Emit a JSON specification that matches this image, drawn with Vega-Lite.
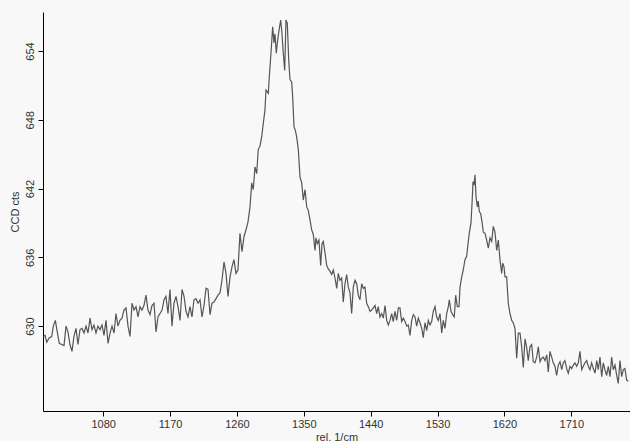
{
  "$schema": "https://vega.github.io/schema/vega-lite/v6.json",
  "width": 587,
  "height": 399,
  "autosize": "none",
  "padding": {"left": 43, "top": 12, "right": 0, "bottom": 30},
  "background": "#f8f8f8",
  "config": {
    "view": {"stroke": null},
    "font": "Liberation Sans",
    "axis": {
      "domainColor": "#000000",
      "tickColor": "#000000",
      "grid": false,
      "labelFont": "Liberation Sans",
      "titleFont": "Liberation Sans",
      "labelFontSize": 11,
      "titleFontSize": 11,
      "titleFontWeight": "normal",
      "labelColor": "#333333",
      "titleColor": "#333333",
      "tickSize": 5
    }
  },
  "data": {
    "values": [
      {"x": 999.4, "y": 629.1}, {"x": 1001.7, "y": 629.2}, {"x": 1004.0, "y": 628.6}, {"x": 1007.5, "y": 629.0},
      {"x": 1010.7, "y": 629.1}, {"x": 1012.9, "y": 630.0}, {"x": 1015.6, "y": 630.5}, {"x": 1018.2, "y": 629.5},
      {"x": 1020.9, "y": 628.5}, {"x": 1024.2, "y": 628.4}, {"x": 1027.3, "y": 628.3}, {"x": 1030.0, "y": 630.0},
      {"x": 1032.6, "y": 629.5}, {"x": 1035.3, "y": 628.4}, {"x": 1038.0, "y": 627.8}, {"x": 1040.7, "y": 629.1},
      {"x": 1043.4, "y": 629.8}, {"x": 1046.1, "y": 628.4}, {"x": 1048.8, "y": 629.7}, {"x": 1051.5, "y": 629.8},
      {"x": 1054.2, "y": 629.4}, {"x": 1056.9, "y": 630.0}, {"x": 1059.6, "y": 629.4}, {"x": 1062.3, "y": 630.7},
      {"x": 1064.9, "y": 629.7}, {"x": 1067.6, "y": 630.1}, {"x": 1070.3, "y": 629.4}, {"x": 1073.0, "y": 630.0},
      {"x": 1075.7, "y": 629.7}, {"x": 1078.4, "y": 630.1}, {"x": 1081.1, "y": 629.2}, {"x": 1083.8, "y": 630.5},
      {"x": 1086.5, "y": 628.5}, {"x": 1089.2, "y": 629.4}, {"x": 1091.9, "y": 630.0}, {"x": 1094.6, "y": 629.4},
      {"x": 1097.2, "y": 631.1}, {"x": 1099.9, "y": 630.0}, {"x": 1102.6, "y": 630.5}, {"x": 1105.3, "y": 630.7},
      {"x": 1108.0, "y": 631.4}, {"x": 1110.7, "y": 631.6}, {"x": 1113.4, "y": 630.0}, {"x": 1116.1, "y": 629.1},
      {"x": 1118.8, "y": 632.0}, {"x": 1121.5, "y": 631.4}, {"x": 1124.2, "y": 631.7}, {"x": 1126.9, "y": 630.8},
      {"x": 1129.5, "y": 631.7}, {"x": 1132.2, "y": 631.4}, {"x": 1134.9, "y": 631.8}, {"x": 1137.6, "y": 632.7},
      {"x": 1140.3, "y": 631.4}, {"x": 1143.0, "y": 631.0}, {"x": 1145.7, "y": 631.8}, {"x": 1148.4, "y": 632.0},
      {"x": 1151.1, "y": 629.5}, {"x": 1153.8, "y": 630.8}, {"x": 1156.5, "y": 631.1}, {"x": 1159.2, "y": 631.4},
      {"x": 1161.9, "y": 632.3}, {"x": 1164.5, "y": 632.6}, {"x": 1167.2, "y": 631.1}, {"x": 1169.9, "y": 633.2},
      {"x": 1172.6, "y": 630.0}, {"x": 1175.3, "y": 632.0}, {"x": 1178.0, "y": 632.6}, {"x": 1180.7, "y": 631.7},
      {"x": 1183.4, "y": 630.5}, {"x": 1186.1, "y": 633.2}, {"x": 1188.8, "y": 632.6}, {"x": 1191.5, "y": 631.3},
      {"x": 1194.2, "y": 630.8}, {"x": 1196.8, "y": 631.7}, {"x": 1199.5, "y": 630.8}, {"x": 1202.2, "y": 632.3},
      {"x": 1204.9, "y": 632.4}, {"x": 1207.6, "y": 632.0}, {"x": 1210.3, "y": 632.3}, {"x": 1213.0, "y": 630.8},
      {"x": 1215.7, "y": 631.8}, {"x": 1218.4, "y": 633.3}, {"x": 1221.1, "y": 633.2}, {"x": 1223.8, "y": 631.0},
      {"x": 1226.4, "y": 632.0}, {"x": 1229.1, "y": 632.1}, {"x": 1231.8, "y": 632.4}, {"x": 1234.5, "y": 632.7},
      {"x": 1237.2, "y": 632.9}, {"x": 1239.9, "y": 634.0}, {"x": 1242.6, "y": 635.6}, {"x": 1245.3, "y": 634.6},
      {"x": 1248.0, "y": 632.6}, {"x": 1250.7, "y": 634.3}, {"x": 1253.4, "y": 635.2}, {"x": 1256.0, "y": 635.8},
      {"x": 1258.7, "y": 634.6}, {"x": 1261.4, "y": 634.9}, {"x": 1264.1, "y": 638.1}, {"x": 1266.8, "y": 636.5},
      {"x": 1269.5, "y": 637.8}, {"x": 1272.2, "y": 638.4}, {"x": 1274.9, "y": 639.1}, {"x": 1277.6, "y": 640.4},
      {"x": 1279.9, "y": 642.5}, {"x": 1282.0, "y": 641.9}, {"x": 1284.3, "y": 643.9}, {"x": 1286.6, "y": 643.3},
      {"x": 1288.7, "y": 645.4}, {"x": 1291.0, "y": 645.7}, {"x": 1293.3, "y": 646.5}, {"x": 1295.5, "y": 647.7},
      {"x": 1297.8, "y": 648.9}, {"x": 1299.1, "y": 650.6}, {"x": 1302.2, "y": 650.3}, {"x": 1303.6, "y": 651.8},
      {"x": 1305.8, "y": 653.8}, {"x": 1308.1, "y": 656.1}, {"x": 1309.9, "y": 654.7}, {"x": 1311.2, "y": 655.5},
      {"x": 1313.0, "y": 653.8}, {"x": 1314.9, "y": 655.0}, {"x": 1316.6, "y": 655.8}, {"x": 1318.9, "y": 656.7},
      {"x": 1320.6, "y": 655.5}, {"x": 1322.4, "y": 653.8}, {"x": 1324.3, "y": 652.3}, {"x": 1326.0, "y": 656.7},
      {"x": 1327.8, "y": 656.4}, {"x": 1329.7, "y": 653.2}, {"x": 1331.4, "y": 651.5}, {"x": 1333.7, "y": 651.3},
      {"x": 1335.0, "y": 650.0}, {"x": 1336.8, "y": 647.4}, {"x": 1338.5, "y": 647.1}, {"x": 1340.4, "y": 646.5},
      {"x": 1342.6, "y": 645.4}, {"x": 1344.9, "y": 643.0}, {"x": 1347.2, "y": 642.5}, {"x": 1349.3, "y": 641.0},
      {"x": 1351.6, "y": 641.9}, {"x": 1353.9, "y": 640.4}, {"x": 1356.0, "y": 640.1}, {"x": 1358.3, "y": 639.3},
      {"x": 1360.6, "y": 638.4}, {"x": 1362.8, "y": 638.0}, {"x": 1365.1, "y": 636.6}, {"x": 1366.4, "y": 637.7},
      {"x": 1368.2, "y": 637.2}, {"x": 1370.4, "y": 637.5}, {"x": 1372.7, "y": 635.3}, {"x": 1374.5, "y": 637.2},
      {"x": 1376.2, "y": 637.4}, {"x": 1378.5, "y": 636.4}, {"x": 1380.8, "y": 635.3}, {"x": 1383.0, "y": 635.0},
      {"x": 1385.2, "y": 634.8}, {"x": 1387.5, "y": 634.5}, {"x": 1389.7, "y": 634.9}, {"x": 1392.0, "y": 634.2},
      {"x": 1394.3, "y": 633.3}, {"x": 1396.4, "y": 634.6}, {"x": 1398.7, "y": 634.0}, {"x": 1401.0, "y": 634.2},
      {"x": 1403.1, "y": 632.1}, {"x": 1405.4, "y": 633.7}, {"x": 1407.7, "y": 634.5}, {"x": 1409.9, "y": 633.4},
      {"x": 1412.2, "y": 632.9}, {"x": 1414.4, "y": 631.1}, {"x": 1416.6, "y": 633.4}, {"x": 1418.9, "y": 634.0},
      {"x": 1421.2, "y": 633.7}, {"x": 1423.3, "y": 632.7}, {"x": 1425.6, "y": 632.3}, {"x": 1427.9, "y": 633.7},
      {"x": 1430.1, "y": 633.3}, {"x": 1432.3, "y": 633.4}, {"x": 1434.6, "y": 632.0}, {"x": 1436.8, "y": 631.7},
      {"x": 1439.1, "y": 631.3}, {"x": 1441.4, "y": 631.4}, {"x": 1443.5, "y": 631.6}, {"x": 1445.8, "y": 631.8},
      {"x": 1448.1, "y": 631.1}, {"x": 1450.2, "y": 631.7}, {"x": 1452.5, "y": 630.8}, {"x": 1454.8, "y": 631.1},
      {"x": 1457.0, "y": 630.7}, {"x": 1459.3, "y": 631.8}, {"x": 1461.6, "y": 630.5}, {"x": 1463.7, "y": 630.1},
      {"x": 1466.0, "y": 630.5}, {"x": 1468.3, "y": 631.1}, {"x": 1470.4, "y": 630.4}, {"x": 1472.7, "y": 631.3},
      {"x": 1475.0, "y": 630.5}, {"x": 1477.2, "y": 631.6}, {"x": 1479.4, "y": 631.6}, {"x": 1481.7, "y": 630.4},
      {"x": 1483.9, "y": 630.7}, {"x": 1486.2, "y": 630.4}, {"x": 1488.5, "y": 630.0}, {"x": 1490.6, "y": 630.1},
      {"x": 1492.9, "y": 629.2}, {"x": 1495.2, "y": 630.5}, {"x": 1497.4, "y": 631.0}, {"x": 1499.6, "y": 630.8},
      {"x": 1501.9, "y": 630.0}, {"x": 1504.1, "y": 630.7}, {"x": 1506.4, "y": 630.3}, {"x": 1508.7, "y": 629.8},
      {"x": 1510.8, "y": 629.0}, {"x": 1513.1, "y": 630.3}, {"x": 1515.4, "y": 629.6}, {"x": 1517.5, "y": 630.5},
      {"x": 1519.8, "y": 630.1}, {"x": 1522.1, "y": 630.4}, {"x": 1524.3, "y": 631.3}, {"x": 1526.6, "y": 631.7},
      {"x": 1528.8, "y": 630.8}, {"x": 1531.0, "y": 630.5}, {"x": 1533.3, "y": 631.1}, {"x": 1535.6, "y": 629.4},
      {"x": 1537.7, "y": 630.5}, {"x": 1540.0, "y": 629.8}, {"x": 1542.3, "y": 631.1}, {"x": 1544.5, "y": 631.7},
      {"x": 1545.8, "y": 632.3}, {"x": 1548.1, "y": 631.3}, {"x": 1550.4, "y": 631.0}, {"x": 1552.5, "y": 630.8},
      {"x": 1554.4, "y": 632.7}, {"x": 1556.6, "y": 631.7}, {"x": 1558.9, "y": 631.7}, {"x": 1560.2, "y": 633.4},
      {"x": 1562.5, "y": 634.3}, {"x": 1564.6, "y": 634.9}, {"x": 1566.9, "y": 635.8}, {"x": 1569.2, "y": 636.1},
      {"x": 1571.0, "y": 637.2}, {"x": 1572.7, "y": 638.1}, {"x": 1575.0, "y": 639.0}, {"x": 1576.4, "y": 640.7},
      {"x": 1577.7, "y": 642.6}, {"x": 1579.0, "y": 642.3}, {"x": 1580.4, "y": 643.2}, {"x": 1581.7, "y": 641.3},
      {"x": 1583.5, "y": 640.4}, {"x": 1584.8, "y": 640.9}, {"x": 1586.2, "y": 640.0}, {"x": 1588.1, "y": 639.8},
      {"x": 1589.8, "y": 639.1}, {"x": 1591.6, "y": 638.2}, {"x": 1593.9, "y": 638.1}, {"x": 1596.1, "y": 637.5},
      {"x": 1598.3, "y": 636.8}, {"x": 1600.6, "y": 637.7}, {"x": 1602.9, "y": 637.4}, {"x": 1605.0, "y": 638.7},
      {"x": 1607.3, "y": 638.2}, {"x": 1609.6, "y": 636.6}, {"x": 1611.8, "y": 637.5}, {"x": 1614.0, "y": 635.8},
      {"x": 1616.3, "y": 634.6}, {"x": 1617.7, "y": 635.5}, {"x": 1619.4, "y": 635.2}, {"x": 1620.8, "y": 634.3},
      {"x": 1623.0, "y": 634.3}, {"x": 1625.2, "y": 632.0}, {"x": 1627.5, "y": 631.1}, {"x": 1629.8, "y": 630.5},
      {"x": 1631.9, "y": 630.3}, {"x": 1634.2, "y": 629.8}, {"x": 1636.5, "y": 627.2}, {"x": 1638.7, "y": 629.4},
      {"x": 1641.0, "y": 629.4}, {"x": 1643.2, "y": 628.2}, {"x": 1645.4, "y": 626.4}, {"x": 1647.7, "y": 628.9},
      {"x": 1650.0, "y": 628.1}, {"x": 1652.1, "y": 627.0}, {"x": 1654.4, "y": 628.2}, {"x": 1656.7, "y": 628.4},
      {"x": 1658.8, "y": 626.9}, {"x": 1661.1, "y": 626.8}, {"x": 1663.4, "y": 627.3}, {"x": 1665.6, "y": 628.2},
      {"x": 1667.9, "y": 626.9}, {"x": 1670.2, "y": 627.2}, {"x": 1672.3, "y": 627.3}, {"x": 1674.6, "y": 627.0},
      {"x": 1676.9, "y": 627.5}, {"x": 1679.0, "y": 626.0}, {"x": 1681.3, "y": 627.8}, {"x": 1683.6, "y": 627.3},
      {"x": 1685.7, "y": 626.8}, {"x": 1688.0, "y": 626.5}, {"x": 1690.3, "y": 625.7}, {"x": 1692.5, "y": 626.6},
      {"x": 1694.8, "y": 626.9}, {"x": 1697.1, "y": 626.2}, {"x": 1699.2, "y": 626.8}, {"x": 1701.5, "y": 627.0},
      {"x": 1703.8, "y": 626.3}, {"x": 1705.9, "y": 625.9}, {"x": 1708.2, "y": 626.5}, {"x": 1710.5, "y": 626.3},
      {"x": 1712.7, "y": 626.6}, {"x": 1714.9, "y": 626.8}, {"x": 1717.2, "y": 626.5}, {"x": 1719.4, "y": 626.8},
      {"x": 1721.7, "y": 627.8}, {"x": 1724.0, "y": 626.2}, {"x": 1726.1, "y": 626.5}, {"x": 1728.4, "y": 626.8},
      {"x": 1730.7, "y": 627.0}, {"x": 1732.9, "y": 626.5}, {"x": 1735.1, "y": 626.2}, {"x": 1737.4, "y": 626.8},
      {"x": 1739.6, "y": 626.3}, {"x": 1741.9, "y": 625.9}, {"x": 1744.2, "y": 627.0}, {"x": 1746.3, "y": 626.2},
      {"x": 1748.6, "y": 627.3}, {"x": 1750.9, "y": 625.6}, {"x": 1753.1, "y": 626.8}, {"x": 1755.3, "y": 626.2},
      {"x": 1757.6, "y": 625.7}, {"x": 1759.8, "y": 626.5}, {"x": 1762.1, "y": 625.6}, {"x": 1764.3, "y": 627.3},
      {"x": 1766.5, "y": 626.2}, {"x": 1768.8, "y": 626.6}, {"x": 1771.1, "y": 625.7}, {"x": 1773.2, "y": 625.0},
      {"x": 1775.5, "y": 627.0}, {"x": 1777.8, "y": 625.6}, {"x": 1780.0, "y": 626.2}, {"x": 1782.2, "y": 626.3},
      {"x": 1784.5, "y": 625.3}, {"x": 1786.7, "y": 625.2}
    ]
  },
  "mark": {"type": "line", "color": "#555555", "strokeWidth": 1.2, "clip": true},
  "encoding": {
    "x": {
      "field": "x",
      "type": "quantitative",
      "title": "rel. 1/cm",
      "scale": {"domain": [999, 1789], "nice": false, "zero": false},
      "axis": {"values": [1080, 1170, 1260, 1350, 1440, 1530, 1620, 1710], "format": "d", "labelPadding": 2, "titlePadding": 2}
    },
    "y": {
      "field": "y",
      "type": "quantitative",
      "title": "CCD cts",
      "scale": {"domain": [622.6, 657.4], "nice": false, "zero": false},
      "axis": {"values": [630, 636, 642, 648, 654], "format": "d", "labelAngle": 270, "labelAlign": "center", "labelBaseline": "bottom", "labelPadding": 3, "titlePadding": 4}
    }
  }
}
